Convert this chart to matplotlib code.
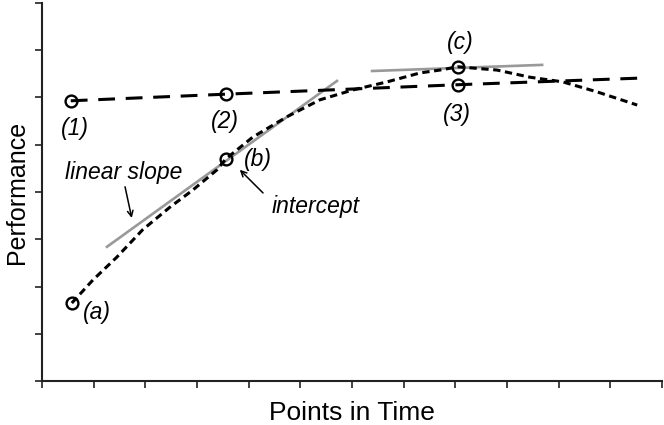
import matplotlib.pyplot as plt

plt.rcParams['font.family'] = ['Liberation Sans', 'DejaVu Sans']

# straight long-dashed trajectory (1)-(2)-(3)
line_x = [0.56, 3.56, 8.05, 11.57]
line_y = [5.93, 6.07, 6.27, 6.41]

# curved short-dashed trajectory (a)-(b)-(c)
curve_x = [0.58, 0.99, 1.45, 1.95, 2.48, 2.92, 3.39, 3.56, 4.08, 4.74, 5.38,
           6.02, 6.68, 7.32, 7.70, 8.05, 8.81, 9.44, 10.08, 10.74, 11.52]
curve_y = [1.65, 2.14, 2.62, 3.20, 3.68, 4.04, 4.47, 4.70, 5.16, 5.59, 5.95,
           6.16, 6.33, 6.52, 6.58, 6.65, 6.58, 6.43, 6.33, 6.12, 5.84]
curve_marks = [0, 7, 15]

# gray tangent lines (linear slope at b, flat slope at c)
tan1_x = [1.26, 5.71]
tan1_y = [2.84, 6.35]
tan2_x = [6.39, 9.68]
tan2_y = [6.56, 6.69]

fig = plt.figure(figsize=(6.64, 4.25), dpi=100)
ax = fig.add_axes([0.063, 0.1035, 0.934, 0.8895])

ax.plot(tan1_x, tan1_y, color='#999999', lw=1.9)
ax.plot(tan2_x, tan2_y, color='#999999', lw=1.9)

ax.plot(line_x, line_y, color='black', lw=2.2, dashes=(5.5, 3.5),
        marker='o', markevery=[0, 1, 2], ms=8.5, mfc='none', mec='black', mew=1.7)
ax.plot(curve_x, curve_y, color='black', lw=2.2, dashes=(2.4, 1.5),
        marker='o', markevery=curve_marks, ms=8.5, mfc='none', mec='black', mew=1.7)

lab = dict(fontsize=16.5, style='italic', ha='center', va='center')
ax.text(0.64, 5.35, '(1)', **lab)
ax.text(3.54, 5.50, '(2)', **lab)
ax.text(8.03, 5.65, '(3)', **lab)
ax.text(1.06, 1.46, '(a)', **lab)
ax.text(4.18, 4.68, '(b)', **lab)
ax.text(8.09, 7.17, '(c)', **lab)
ax.text(1.59, 4.42, 'linear slope', **lab)
ax.text(5.30, 3.70, 'intercept', **lab)

arrow = dict(arrowstyle='->', lw=1.1, color='black', shrinkA=0, shrinkB=0)
ax.annotate('', xy=(1.74, 3.45), xytext=(1.61, 4.11), arrowprops=arrow)
ax.annotate('', xy=(3.83, 4.47), xytext=(4.28, 3.98), arrowprops=arrow)

ax.set_xlim(0, 12)
ax.set_ylim(0, 8)
ax.set_xticks(range(13))
ax.set_yticks(range(9))
ax.set_xticklabels([])
ax.set_yticklabels([])
ax.tick_params(direction='out', length=5, width=1.2, color='#222222')
for s in ['top', 'right']:
    ax.spines[s].set_visible(False)
for s in ['left', 'bottom']:
    ax.spines[s].set_linewidth(1.5)
    ax.spines[s].set_color('#222222')

ax.set_xlabel('Points in Time', fontsize=19, labelpad=6)
ax.set_ylabel('Performance', fontsize=18, labelpad=1)

fig.savefig('out.png', dpi=100)
